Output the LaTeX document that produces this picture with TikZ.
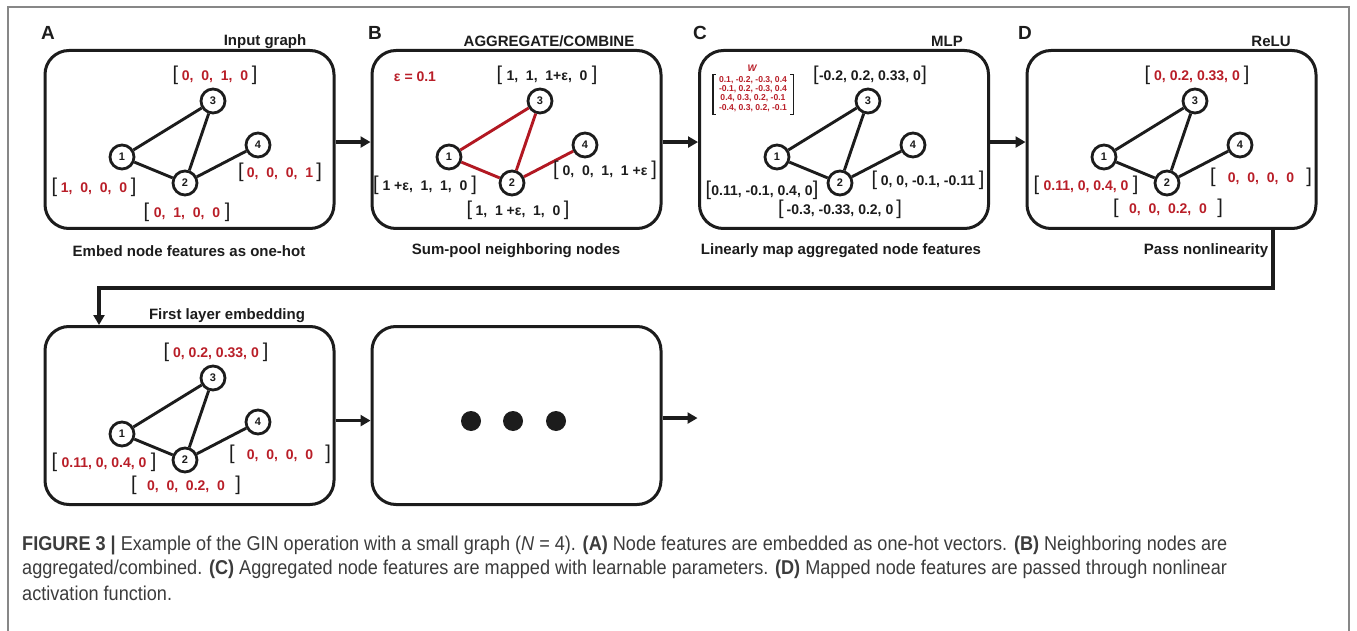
\documentclass[tikz,border=0pt]{standalone}
\usepackage{fontspec}
\setmainfont{Liberation Sans}
\newfontfamily\capfont[FakeStretch=0.905]{Liberation Sans}
\usetikzlibrary{arrows.meta,calc}
\definecolor{vred}{RGB}{185,30,40}
\definecolor{ered}{RGB}{178,24,34}
\definecolor{ink}{RGB}{28,28,28}
\definecolor{framec}{RGB}{135,135,135}
\definecolor{captxt}{RGB}{60,60,60}
\newcommand\brk[1]{{\color{ink}\fontsize{20}{20}\selectfont\mdseries #1}}
\newcommand\vl[2]{\makebox[#1pt]{\brk{[}\hfill#2\hfill\brk{]}}}
\begin{document}
\begin{tikzpicture}[x=1pt,y=-1pt,
  panel/.style={draw=ink, line width=3pt, rounded corners=24pt, minimum width=289pt, minimum height=178pt, inner sep=0pt},
  gnode/.style={circle, draw=ink, line width=2.8pt, fill=white, minimum size=24pt, inner sep=0pt, font=\fontsize{11}{11}\selectfont\bfseries, text=ink},
  gedge/.style={ink, line width=2.9pt},
  redge/.style={ered, line width=2.9pt},
  vec/.style={text=vred, font=\fontsize{14}{14}\selectfont\bfseries, inner sep=0pt},
  bvec/.style={vec, text=ink},
  ttl/.style={font=\fontsize{15}{15}\selectfont\bfseries, text=ink, inner sep=0pt},
  letter/.style={font=\fontsize{19}{19}\selectfont\bfseries, text=ink, inner sep=0pt},
  flow/.style={draw=ink, line width=3.5pt, -{Triangle[length=10pt,width=11pt]}},
  dot/.style={circle, fill=ink, minimum size=20pt, inner sep=0pt},
  captext/.style={font=\capfont\fontsize{20}{22}\selectfont, text=captxt, inner sep=0pt, anchor=west},
  brkt/.style={draw=ink, line width=1.3pt}
]
\useasboundingbox (0,0) rectangle (1357,631);
\fill[white] (0,0) rectangle (1357,631);
% outer frame
\draw[framec, line width=1.6pt] (8,631) -- (8,7) -- (1349,7) -- (1349,631);

% panel boxes
\node[panel] (boxA) at (189.5,139.5) {};
\node[panel] (boxB) at (516.5,139.5) {};
\node[panel] (boxC) at (844,139.5) {};
\node[panel] (boxD) at (1171.5,139.5) {};
\node[panel] (boxE) at (189.5,415.5) {};
\node[panel] (boxF) at (516.5,415.5) {};

% letters and titles
\node[letter] (lA) at (48,33) {A};
\node[letter] (lB) at (375,33) {B};
\node[letter] (lC) at (700,33) {C};
\node[letter] (lD) at (1025,33) {D};
\node[ttl] (tA) at (265,42) {Input graph};
\node[ttl] (tB) at (549,41) {AGGREGATE/COMBINE};
\node[ttl] (tC) at (947,41) {MLP};
\node[ttl] (tD) at (1271,41) {ReLU};
\node[ttl] (tE) at (227,316) {First layer embedding};
\node[ttl] (sA) at (189,251) {Embed node features as one-hot};
\node[ttl] (sB) at (516,251) {Sum-pool neighboring nodes};
\node[ttl] (sC) at (841,251) {Linearly map aggregated node features};
\node[ttl] (sD) at (1206,251) {Pass nonlinearity};

% graphs
\foreach \p/\dx/\dy/\st in {a/0/0/gedge, b/327/0/redge, c/655/0/gedge, d/982/0/gedge, e/0/277/gedge}{
  \begin{scope}[shift={(\dx,\dy)}]
    \node[gnode] (\p1) at (122,157) {1};
    \node[gnode] (\p2) at (185,183) {2};
    \node[gnode] (\p3) at (213,101) {3};
    \node[gnode] (\p4) at (258,145) {4};
    \draw[\st] (\p1) -- (\p3);
    \draw[\st] (\p1) -- (\p2);
    \draw[\st] (\p2) -- (\p3);
    \draw[\st] (\p2) -- (\p4);
  \end{scope}
}

% panel A vectors
\node[vec] (av3) at (215,75) {\vl{85}{0,\ \ 0,\ \ 1,\ \ 0}};
\node[vec] (av1) at (94,187) {\vl{85}{1,\ \ 0,\ \ 0,\ \ 0}};
\node[vec] (av2) at (187,212) {\vl{87}{0,\ \ 1,\ \ 0,\ \ 0}};
\node[vec] (av4) at (280,172) {\vl{84}{0,\ \ 0,\ \ 0,\ \ 1}};

% panel B vectors
\node[vec] (eps) at (415,77) {ε = 0.1};
\node[bvec] (bv3) at (547,75) {\vl{101}{1,\ \ 1,\ \ 1+ε,\ \ 0}};
\node[bvec] (bv1) at (425,185) {\vl{104}{1 +ε,\ \ 1,\ \ 1,\ \ 0}};
\node[bvec] (bv2) at (518,210) {\vl{103}{1,\ \ 1 +ε,\ \ 1,\ \ 0}};
\node[bvec] (bv4) at (605,170) {\vl{104}{0,\ \ 0,\ \ 1,\ \ 1 +ε}};

% panel C vectors
\node[bvec] (cv3) at (870,75) {\vl{114}{-0.2, 0.2, 0.33, 0}};
\node[bvec] (cv1) at (762,190) {\vl{113}{0.11, -0.1, 0.4, 0}};
\node[bvec] (cv4) at (928,180) {\vl{113}{0, 0, -0.1, -0.11}};
\node[bvec] (cv2) at (840,209) {\vl{124}{-0.3, -0.33, 0.2, 0}};
\node[text=vred, font=\fontsize{9.5}{9.5}\selectfont\bfseries\itshape, inner sep=0pt] (Wl) at (752,68) {W};
\node[text=vred, font=\fontsize{8.6}{9.2}\selectfont\bfseries, align=center, inner sep=0pt] (Wm) at (753,94)
  {0.1, -0.2, -0.3, 0.4\\-0.1, 0.2, -0.3, 0.4\\0.4, 0.3, 0.2, -0.1\\-0.4, 0.3, 0.2, -0.1};
\draw[brkt] ($(Wm.north west)+(-3,-2)$) -- ++(-3,0) -- ($(Wm.south west)+(-6,3)$) -- ++(3,0);
\draw[brkt] ($(Wm.north east)+(3,-2)$) -- ++(3,0) -- ($(Wm.south east)+(6,3)$) -- ++(-3,0);

% panel D vectors
\node[vec] (dv3) at (1197,75) {\vl{105}{0, 0.2, 0.33, 0}};
\node[vec] (dv1) at (1086,185) {\vl{105}{0.11, 0, 0.4, 0}};
\node[vec] (dv4) at (1261,177) {\vl{102}{0,\ \ 0,\ \ 0,\ \ 0}};
\node[vec] (dv2) at (1168,208) {\vl{110}{0,\ \ 0,\ \ 0.2,\ \ 0}};

% panel E vectors
\node[vec] (ev3) at (216,352) {\vl{105}{0, 0.2, 0.33, 0}};
\node[vec] (ev1) at (104,462) {\vl{105}{0.11, 0, 0.4, 0}};
\node[vec] (ev4) at (280,454) {\vl{102}{0,\ \ 0,\ \ 0,\ \ 0}};
\node[vec] (ev2) at (186,485) {\vl{110}{0,\ \ 0,\ \ 0.2,\ \ 0}};

% dots
\node[dot] (dot1) at (471,421) {};
\node[dot] (dot2) at (513,421) {};
\node[dot] (dot3) at (556,421) {};

% flow arrows
\draw[flow] (boxA.-1) -- (boxB.181);
\draw[flow] (boxB.-1) -- (boxC.181);
\draw[flow] (boxC.-1) -- (boxD.181);
\coordinate (t1) at (1273,288);
\coordinate (t2) at (99,288);
\draw[flow] (boxD.south -| t1) -- (t1) -- (t2) -- (boxE.north -| t2);
\draw[flow] (boxE.-2) -- (boxF.182);
\coordinate (fend) at ($(boxF.-1.5)+(35,0)$);
\draw[flow] (boxF.-1.5) -- (fend);

% caption
\node[captext] (cap1) at (22,545) {\textbf{FIGURE 3 |} Example of the GIN operation with a small graph (\textit{N} = 4). \textbf{(A)} Node features are embedded as one-hot vectors. \textbf{(B)} Neighboring nodes are};
\node[captext] (cap2) at (22,569) {aggregated/combined. \textbf{(C)} Aggregated node features are mapped with learnable parameters. \textbf{(D)} Mapped node features are passed through nonlinear};
\node[captext] (cap3) at (22,593) {activation function.};
\end{tikzpicture}
\end{document}
